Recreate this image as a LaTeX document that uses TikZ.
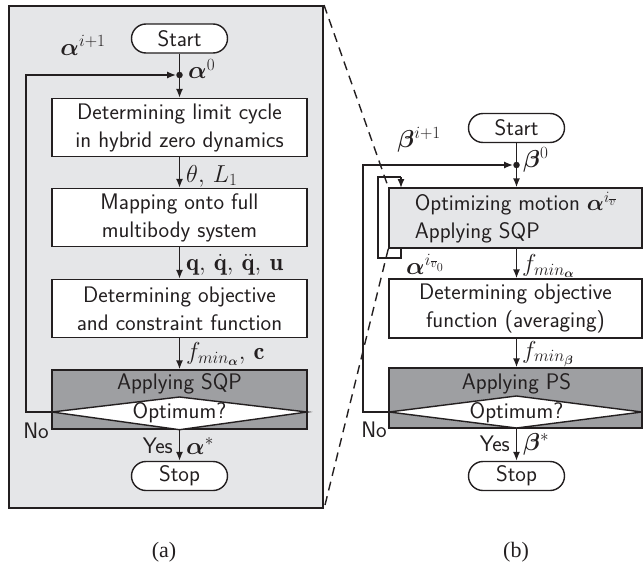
\RequirePackage{fix-cm}
\documentclass[tikz,border=0pt]{standalone}
\usepackage{bm}
\usepackage{fontspec}
\newfontfamily\capfont{Liberation Serif}
\usetikzlibrary{arrows.meta}
\definecolor{panelgray}{RGB}{229,230,232}
\definecolor{deepgray}{RGB}{158,159,162}
\definecolor{ink}{RGB}{35,31,32}
\tikzset{
  base/.style={font=\fontsize{22.5}{28}\selectfont\sffamily, text=ink, inner sep=0pt},
  lbl/.style={font=\fontsize{24.5}{28}\selectfont, text=ink, inner sep=1pt},
  procbox/.style={base, draw=ink, line width=1.4pt, fill=white, minimum width=255pt, minimum height=58pt, align=center},
  procboxb/.style={procbox, minimum width=253pt},
  decbox/.style={draw=ink, line width=1.4pt, fill=deepgray, minimum width=255pt, minimum height=59pt, inner sep=0pt},
  decboxb/.style={decbox, minimum width=253pt, minimum height=60pt},
  term/.style={base, draw=ink, line width=1.4pt, fill=white, rounded corners=14.5pt, minimum width=96pt, minimum height=29pt},
  diam/.style={draw=ink, line width=1.4pt, fill=white, line join=miter},
  dotn/.style={circle, fill=ink, inner sep=0pt, minimum size=6.5pt},
  conn/.style={draw=ink, line width=1.4pt},
  arr/.style={conn, -{Latex[length=9pt,width=7pt]}},
  panel/.style={draw=ink, line width=2pt, fill=panelgray, minimum width=314pt, minimum height=502pt, inner sep=0pt},
  dashline/.style={draw=ink, line width=1.4pt, dash pattern=on 9pt off 6pt},
  capt/.style={font=\capfont\fontsize{22}{26}\selectfont, text=ink, inner sep=0pt}
}
\begin{document}
\begin{tikzpicture}[x=1pt,y=-1pt]
\useasboundingbox (0,0) rectangle (643,565);
% ---------- panel (a) ----------
\node[panel] (panelA) at (166,257) {};
\node[term] (startA) at (179.5,38.5) {Start};
\node[dotn] (dotA) at (179.5,75) {};
\node[procbox] (b1) at (179.5,127.5) {Determining limit cycle\\in hybrid zero dynamics};
\node[procbox] (b2) at (179.5,217.5) {Mapping onto full\\multibody system};
\node[procbox] (b3) at (179.5,308.5) {Determining objective\\and constraint function};
\node[decbox] (sqpA) at (179.5,399.5) {};
\node[base] (sqpAt) at (179.5,384) {Applying SQP};
\coordinate (dAl) at (52,412);
\coordinate (dAt) at (179.5,397);
\coordinate (dAr) at (307,412);
\draw[diam] (dAl) -- (dAt) -- (dAr) -- (sqpA.south) -- cycle;
\node[base] (optA) at (179.5,413) {Optimum?};
\node[term] (stopA) at (179.5,476) {Stop};
\coordinate (fbA) at (26,412);
\draw[conn] (startA) -- (dotA);
\draw[arr] (dotA) -- (b1);
\draw[arr] (b1) -- (b2);
\draw[arr] (b2) -- (b3);
\draw[arr] (b3) -- (sqpA);
\draw[arr] (sqpA) -- (stopA);
\draw[arr] (dAl) -- (fbA) |- (dotA);
\node[lbl] (lai) at (83,45) {$\bm{\alpha}^{i+1}$};
\node[lbl, anchor=west] (la0) at (187,69) {$\bm{\alpha}^{0}$};
\node[lbl, anchor=west] (lth) at (185,176) {$\theta,\,L_1$};
\node[lbl, anchor=west] (lq) at (185,265) {$\mathbf{q},\,\dot{\mathbf{q}},\,\ddot{\mathbf{q}},\,\mathbf{u}$};
\node[lbl, anchor=west] (lf) at (185,354) {$f_{min_{\bm{\alpha}}},\,\mathbf{c}$};
\node[base, anchor=east] (yesA) at (173,446) {Yes};
\node[lbl, anchor=west] (las) at (185,446) {$\bm{\alpha}^{*}$};
\node[base] (noA) at (36,431) {No};
% ---------- panel (b) ----------
\node[term] (startB) at (516.5,128) {Start};
\node[dotn] (dotB) at (516.5,165) {};
\node[procboxb, fill=panelgray, minimum height=60pt, align=left] (optB) at (515.5,218) {Optimizing motion $\bm{\alpha}^{i_{\overline{v}}}$\\Applying SQP};
\node[procboxb, minimum height=59pt] (avgB) at (515.5,308.5) {Determining objective\\function (averaging)};
\node[decboxb] (psB) at (515.5,398) {};
\node[base] (psBt) at (516.5,384) {Applying PS};
\coordinate (dBl) at (389,412);
\coordinate (dBt) at (516.5,396);
\coordinate (dBr) at (642,412);
\coordinate (dBb) at (516.5,428);
\draw[diam] (dBl) -- (dBt) -- (dBr) -- (dBb) -- cycle;
\node[base] (optBt) at (516.5,413) {Optimum?};
\node[term] (stopB) at (516.5,476) {Stop};
\coordinate (fbB) at (363,412);
\draw[conn] (startB) -- (dotB);
\draw[arr] (dotB) -- (dotB |- optB.north);
\draw[arr] (dotB |- optB.south) -- (dotB |- avgB.north);
\draw[arr] (dotB |- avgB.south) -- (dotB |- psB.north);
\draw[arr] (dBb) -- (stopB);
\draw[arr] (dBl) -- (fbB) |- (dotB);
% inner loop
\coordinate (lpA) at (401,248);
\coordinate (lpB) at (378,258);
\coordinate (lpC) at (401,177);
\coordinate (lpD) at (401,188);
\draw[conn] (lpA) |- (lpB) |- (lpC);
\draw[arr] (lpC) -- (lpD);
\node[lbl] (lbi) at (419,140) {$\bm{\beta}^{i+1}$};
\node[lbl, anchor=west] (lb0) at (522,160) {$\bm{\beta}^{0}$};
\node[lbl, anchor=west] (lav) at (405,264) {$\bm{\alpha}^{i_{\overline{v}_0}}$};
\node[lbl, anchor=west] (lfa) at (521,266) {$f_{min_{\bm{\alpha}}}$};
\node[lbl, anchor=west] (lfb) at (521,354) {$f_{min_{\bm{\beta}}}$};
\node[base, anchor=east] (yesB) at (510,444) {Yes};
\node[lbl, anchor=west] (lbs) at (522,444) {$\bm{\beta}^{*}$};
\node[base] (noB) at (374,430) {No};
% zoom lines
\draw[dashline] (panelA.north east) -- (optB.north west);
\draw[dashline] (optB.south west) -- (panelA.south east);
% captions
\node[capt] (capA) at (164,552) {(a)};
\node[capt] (capB) at (516,552) {(b)};
\end{tikzpicture}
\end{document}
